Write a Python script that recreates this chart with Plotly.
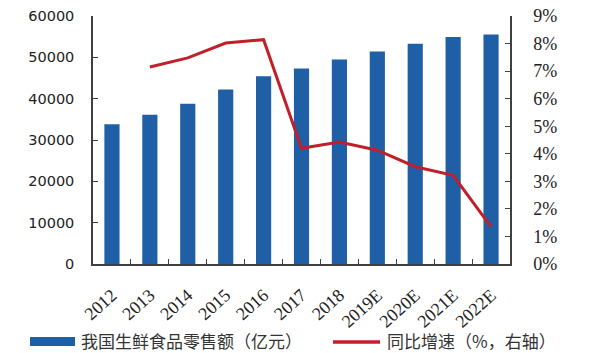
import plotly.graph_objects as go

categories = ["2012", "2013", "2014", "2015", "2016", "2017", "2018", "2019E", "2020E", "2021E", "2022E"]
retail_sales = [33800, 36100, 38800, 42200, 45400, 47300, 49500, 51400, 53300, 54900, 55500]
growth_pct = [None, 7.15, 7.48, 8.02, 8.14, 4.2, 4.43, 4.13, 3.53, 3.22, 1.35]
left_ticks = [0, 10000, 20000, 30000, 40000, 50000, 60000]
right_ticks = [0, 1, 2, 3, 4, 5, 6, 7, 8, 9]

bar_name = "我国生鲜食品零售额（亿元）"
line_name = "同比增速（%，右轴）"
bar_color = "#1f5fa6"
line_color = "#c0202a"

fig = go.Figure()
fig.add_trace(go.Bar(x=categories, y=retail_sales, name=bar_name,
                     marker=dict(color=bar_color, line=dict(width=0)), width=0.4))
fig.add_trace(go.Scatter(x=categories, y=growth_pct, name=line_name, yaxis="y2",
                         mode="lines", line=dict(color=line_color, width=3)))

# plot area in pixels: x 93..510, y 16..264
L, R, T, B = 93, 510, 16, 264
W, H = R - L, B - T
def px(x):
    return (x - L) / W
def py(y):
    return (B - y) / H

# custom single-row legend
shapes = [
    dict(type="rect", xref="paper", yref="paper", x0=px(30), x1=px(75), y0=py(346), y1=py(337),
         fillcolor=bar_color, line=dict(width=0)),
    dict(type="line", xref="paper", yref="paper", x0=px(333), x1=px(380), y0=py(342), y1=py(342),
         line=dict(color=line_color, width=3.5)),
]
annotations = [
    dict(text=bar_name, xref="paper", yref="paper", x=px(79), y=py(340), xanchor="left", yanchor="middle",
         showarrow=False, font=dict(family="Noto Sans CJK SC", size=17, color="#333")),
    dict(text=line_name, xref="paper", yref="paper", x=px(385), y=py(340), xanchor="left", yanchor="middle",
         showarrow=False, font=dict(family="Noto Sans CJK SC", size=17, color="#333")),
]

axis_col = "#404040"
fig.update_layout(
    width=605, height=353,
    margin=dict(l=L, r=605 - R, t=T, b=353 - B),
    paper_bgcolor="white", plot_bgcolor="white",
    showlegend=False,
    shapes=shapes, annotations=annotations,
    xaxis=dict(type="category", showline=True, linecolor=axis_col, linewidth=1.5, automargin=False,
               ticks="inside", ticklen=5, tickcolor=axis_col, tickson="boundaries",
               tickangle=-42, tickfont=dict(family="Liberation Serif", size=18, color="#222"),
               ticklabelstandoff=12, showgrid=False, range=[-0.5, 10.5]),
    yaxis=dict(range=[0, 60000], tickvals=left_ticks, ticktext=[str(t) for t in left_ticks],
               showline=True, linecolor=axis_col, linewidth=1.5, automargin=False,
               ticks="inside", ticklen=5, tickcolor=axis_col, showgrid=False, zeroline=False,
               tickfont=dict(family="DejaVu Sans", size=14.5, color="#222"), ticklabelstandoff=14),
    yaxis2=dict(range=[0, 9], tickvals=right_ticks, ticktext=[f"{t}%" for t in right_ticks],
                overlaying="y", side="right", showline=True, linecolor=axis_col, linewidth=1.5,
                automargin=False,
                ticks="inside", ticklen=5, tickcolor=axis_col, showgrid=False, zeroline=False,
                tickfont=dict(family="Liberation Serif", size=18, color="#222"), ticklabelstandoff=18),
)
fig.write_html("out.html")
